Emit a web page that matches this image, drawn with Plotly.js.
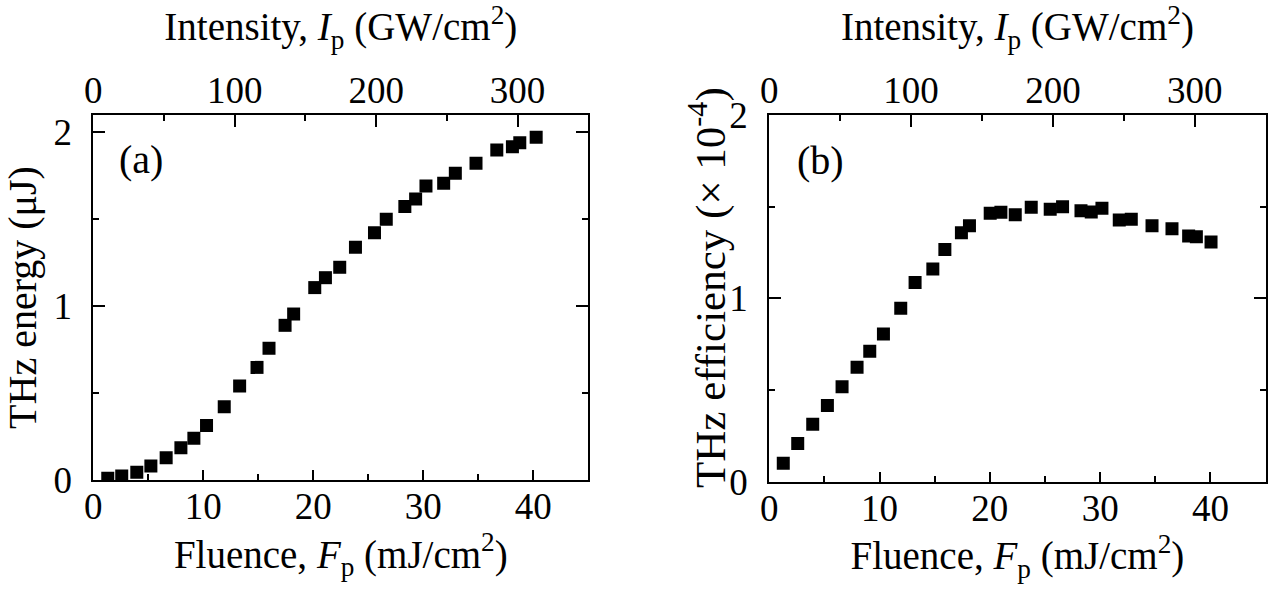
<!DOCTYPE html>
<html>
<head>
<meta charset="utf-8">
<script src="https://cdn.plot.ly/plotly-3.0.1.min.js"></script>
<style>html,body{margin:0;padding:0;background:#fff;}#chart{width:1277px;height:605px;}</style>
</head>
<body>
<div id="chart"></div>
<script>
// Pump fluence (mJ/cm^2)
const fluenceA = [1.31, 2.58, 3.95, 5.23, 6.62, 7.96, 9.14, 10.29, 11.9, 13.3, 14.88, 15.97, 17.43, 18.21, 20.13, 21.1, 22.4, 23.83, 25.56, 26.63, 28.32, 29.3, 30.24, 31.85, 32.91, 34.79, 36.68, 38.1, 38.77, 40.26];
// THz energy (uJ)
const energy = [0.01, 0.023, 0.044, 0.08, 0.128, 0.186, 0.24, 0.313, 0.422, 0.541, 0.648, 0.758, 0.89, 0.955, 1.107, 1.164, 1.224, 1.339, 1.423, 1.50, 1.573, 1.617, 1.692, 1.708, 1.765, 1.823, 1.899, 1.918, 1.941, 1.972];

const fluenceB = [1.27, 2.58, 3.94, 5.27, 6.6, 7.96, 9.11, 10.35, 11.92, 13.22, 14.83, 15.92, 17.42, 18.15, 20.03, 21.0, 22.3, 23.75, 25.47, 26.59, 28.26, 29.19, 30.16, 31.73, 32.82, 34.7, 36.51, 38.02, 38.72, 40.05];
// THz efficiency (x 1e-4)
const efficiency = [0.100, 0.209, 0.313, 0.415, 0.518, 0.624, 0.711, 0.806, 0.946, 1.087, 1.160, 1.267, 1.358, 1.396, 1.464, 1.469, 1.456, 1.497, 1.486, 1.500, 1.478, 1.471, 1.491, 1.427, 1.431, 1.396, 1.380, 1.340, 1.336, 1.307];

const fluenceRange = [0, 45];
const intensityRange = [0, 350];
const xTitle = 'Fluence, <i>F</i><sub>p</sub> (mJ/cm<sup>2</sup>)';
const topTitle = 'Intensity, <i>I</i><sub>p</sub> (GW/cm<sup>2</sup>)';
const yTitleA = 'THz energy (μJ)';
const yTitleB = 'THz efficiency (× 10<sup>-4</sup>)';

const FONT = 'Liberation Serif, Times New Roman, serif';
const tickFont = {family: FONT, size: 37, color: '#000'};
const titleFont = {family: FONT, size: 39, color: '#000'};

const marker = {symbol: 'square', size: 13, color: '#000'};

const traces = [
  {x: fluenceA, y: energy, xaxis: 'x', yaxis: 'y', mode: 'markers', type: 'scatter', marker: marker, hoverinfo: 'x+y'},
  {x: fluenceB, y: efficiency, xaxis: 'x2', yaxis: 'y2', mode: 'markers', type: 'scatter', marker: marker, hoverinfo: 'x+y'},
  {x: [], y: [], xaxis: 'x3', yaxis: 'y', mode: 'markers', type: 'scatter', hoverinfo: 'skip'},
  {x: [], y: [], xaxis: 'x4', yaxis: 'y2', mode: 'markers', type: 'scatter', hoverinfo: 'skip'}
];

function bottomX(domain, anchor) {
  return {
    domain: domain, anchor: anchor, side: 'bottom', range: fluenceRange, autorange: false,
    showline: true, linewidth: 2, linecolor: '#000', mirror: false,
    ticks: 'inside', ticklen: 10, tickwidth: 2, tickcolor: '#000', dtick: 10, tick0: 0,
    minor: {dtick: 5, ticks: 'inside', ticklen: 6, tickwidth: 2, tickcolor: '#000'},
    showgrid: false, zeroline: false, tickfont: tickFont, ticklabelstandoff: -7,
    title: {text: xTitle, font: titleFont, standoff: 8}, automargin: false
  };
}
function topX(overlay, anchor) {
  return {
    overlaying: overlay, anchor: anchor, side: 'top', range: intensityRange, autorange: false,
    showline: true, linewidth: 2, linecolor: '#000',
    ticks: 'inside', ticklen: 12, tickwidth: 2, tickcolor: '#000', dtick: 100, tick0: 0,
    minor: {dtick: 50, ticks: 'inside', ticklen: 6, tickwidth: 2, tickcolor: '#000'},
    showgrid: false, zeroline: false, tickfont: tickFont, ticklabelstandoff: -5,
    title: {text: topTitle, font: titleFont, standoff: 23}, automargin: false
  };
}
function leftY(domain, anchor, range, title) {
  const ax = {
    domain: domain, anchor: anchor, range: range, autorange: false,
    showline: true, linewidth: 2, linecolor: '#000', mirror: 'ticks',
    ticks: 'inside', ticklen: 12, tickwidth: 2, tickcolor: '#000', dtick: 1, tick0: 0,
    minor: {dtick: 0.5, ticks: 'inside', ticklen: 6, tickwidth: 2, tickcolor: '#000'},
    showgrid: false, zeroline: false, tickfont: tickFont, ticklabelstandoff: 12, automargin: false
  };
  if (title) ax.title = {text: title, font: {family: FONT, size: 40, color: '#000'}, standoff: 14};
  return ax;
}

const layout = {
  width: 1277, height: 605,
  margin: {l: 0, r: 0, t: 0, b: 0},
  paper_bgcolor: '#fff', plot_bgcolor: '#fff',
  showlegend: false,
  font: {family: FONT, color: '#000'},
  xaxis: bottomX([0.0731, 0.4607], 'y'),
  yaxis: leftY([0.2066, 0.8099], 'x', [0, 2.1], yTitleA),
  xaxis3: topX('x', 'y'),
  xaxis2: bottomX([0.6024, 0.9911], 'y2'),
  yaxis2: leftY([0.2038, 0.8099], 'x2', [0, 2], null),
  xaxis4: topX('x2', 'y2'),
  annotations: [
    {text: '(a)', xref: 'x domain', yref: 'y domain', x: 0.047, y: 0.877, xanchor: 'left', yanchor: 'middle', showarrow: false, font: {family: FONT, size: 40, color: '#000'}},
    {text: '(b)', xref: 'x2 domain', yref: 'y2 domain', x: 0.052, y: 0.877, xanchor: 'left', yanchor: 'middle', showarrow: false, font: {family: FONT, size: 40, color: '#000'}},
    {text: yTitleB, xref: 'paper', yref: 'paper', x: 708 / 1277, y: (605 - 288) / 605, xanchor: 'center', yanchor: 'middle', textangle: -90, showarrow: false, font: {family: FONT, size: 43, color: '#000'}}
  ]
};

Plotly.newPlot('chart', traces, layout, {displayModeBar: false, staticPlot: true});
</script>
</body>
</html>
